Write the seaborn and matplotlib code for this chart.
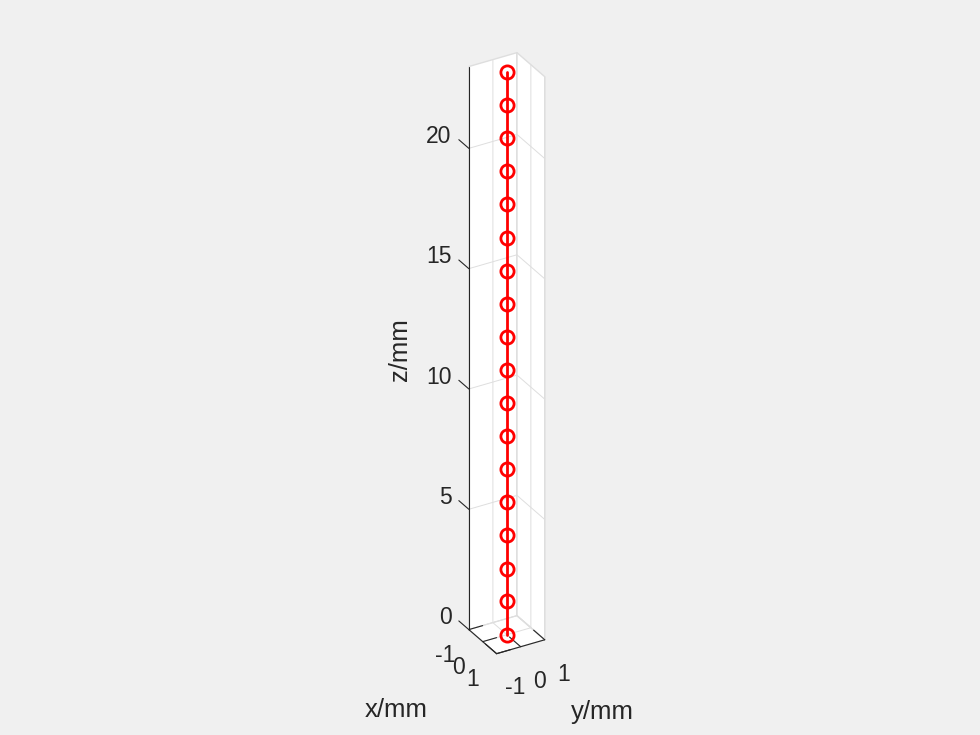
import numpy as np
import matplotlib
matplotlib.use("Agg")
import matplotlib.pyplot as plt
from matplotlib.text import Text
from matplotlib.ticker import NullFormatter
from mpl_toolkits.mplot3d import proj3d
import seaborn as sns

# data
x_mm = [0.0] * 18
y_mm = [0.0] * 18
z_mm = [0.0, 1.38, 2.75, 4.13, 5.5, 6.88, 8.25, 9.63, 11.0, 12.38,
        13.75, 15.13, 16.5, 17.88, 19.25, 20.63, 22.0, 23.38]
z_ticks = [0, 5, 10, 15, 20]
xy_ticks = [-1, 0, 1]
tick_labels_xy = ['-1', '0', '1']
tick_labels_z = ['0', '5', '10', '15', '20']

sns.set_style("white")
plt.rcParams['font.family'] = ['Liberation Sans', 'DejaVu Sans']
plt.rcParams['axes.unicode_minus'] = False

TXT = '#262626'
fig = plt.figure(figsize=(9.8, 7.35), dpi=100, facecolor='#f0f0f0')
ax = fig.add_axes([0.007, 0.006, 1.0, 1.0], projection='3d', proj_type='ortho')
ax.set_facecolor('#f0f0f0')

ax.plot(x_mm, y_mm, z_mm, color='#ff0000', lw=2, marker='o', ms=9.5,
        mfc='none', mec='#ff0000', mew=2)

ax.set_xlim(-1, 1)
ax.set_ylim(-1, 1)
ax.set_zlim(0, 23.4)
ax.set_box_aspect((2, 2, 23.4), zoom=0.865)
ax.view_init(elev=30, azim=-30)

ax.set_xticks(xy_ticks)
ax.set_yticks(xy_ticks)
ax.set_zticks(z_ticks)
for a, fac in ((ax.xaxis, 3.6), (ax.yaxis, 5.0), (ax.zaxis, 4.5)):
    a.set_major_formatter(NullFormatter())
    a.set_pane_color((1, 1, 1, 1))
    a.pane.set_edgecolor((0.87, 0.87, 0.87, 1))
    a._axinfo['grid']['color'] = (0.87, 0.87, 0.87, 1)
    a._axinfo['grid']['linewidth'] = 0.7
    a._axinfo['tick']['inward_factor'] = 0.0
    a._axinfo['tick']['outward_factor'] = fac
    a.line.set_color(TXT)
    a.line.set_linewidth(0.8)
ax.zaxis.set_ticks_position('lower')
ax.zaxis._get_tickdir = lambda *args, **kw: 0
ax.tick_params(colors=TXT, width=0.8)
for a in (ax.xaxis, ax.yaxis, ax.zaxis):
    for tk in a.get_major_ticks():
        tk.label1.set_visible(False)
        tk.label2.set_visible(False)
    a.label.set_visible(False)
    a.offsetText.set_visible(False)

# project tick-label anchor points with the axes' own projection
fig.canvas.draw()
M = ax.get_proj()


def place(x, y, z, s, **kw):
    xp, yp, _ = proj3d.proj_transform(x, y, z, M)
    ax.text2D(float(xp), float(yp), s, transform=ax.transData, fontsize=16.5,
              color=TXT, **kw)


for v, s in zip(xy_ticks, tick_labels_xy):
    place(v, -2.0, -1.06, s, ha='center', va='baseline')
    place(2.33, v, -1.03, s, ha='center', va='baseline')
for v, s in zip(z_ticks, tick_labels_z):
    place(-1.634, -1.352, v, s, ha='right', va='baseline')

fig.text(0.404, 0.0245, 'x/mm', fontsize=18.5, color=TXT, ha='center', va='baseline')
fig.text(0.615, 0.022, 'y/mm', fontsize=18.5, color=TXT, ha='center', va='baseline')
fig.text(0.408, 0.524, 'z/mm', fontsize=18.5, color=TXT, ha='center', va='center',
         rotation=90)

# hide any empty placeholder text objects (titles etc.)
for t in fig.findobj(Text):
    if t.get_text() == '':
        t.set_visible(False)

fig.savefig('out.png', dpi=100, facecolor='#f0f0f0')
